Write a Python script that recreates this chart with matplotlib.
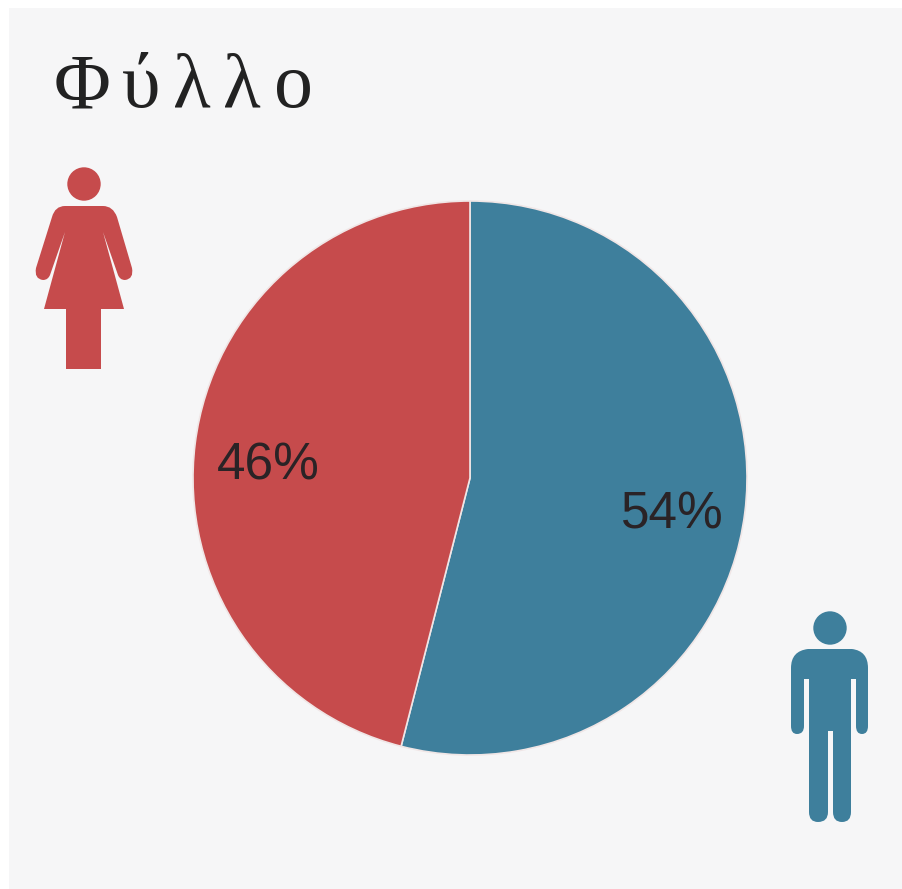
import matplotlib
matplotlib.use("Agg")
from matplotlib import pyplot as plt
from matplotlib.patches import Circle, PathPatch, Rectangle
from matplotlib.path import Path

title = "Φύλλο"
title_x = [54, 122, 173, 223, 274]
shares = [54, 46]
colors = ["#3e7f9c", "#c64b4c"]
label_pos = [(672, 515), (268, 466)]

M, L, Q = Path.MOVETO, Path.LINETO, Path.CURVE3

# outlines of the two figures, in pixels: (code, x, y), a curve takes two entries
woman_body = [
    (M, 65, 206), (L, 103, 206), (Q, 113, 206), (Q, 117, 217),
    (L, 132, 268), (Q, 134, 279), (Q, 125, 280), (Q, 120, 280), (Q, 118, 275),
    (L, 103, 232), (L, 124, 309), (L, 101, 309), (L, 101, 369), (L, 66, 369),
    (L, 66, 309), (L, 44, 309), (L, 65, 232), (L, 50, 275), (Q, 48, 280), (Q, 43, 280),
    (Q, 34, 279), (Q, 36, 268), (L, 52, 217), (Q, 55, 206), (Q, 65, 206),
]
man_body = [
    (M, 808, 649), (L, 852, 649), (Q, 868, 651), (Q, 868, 668),
    (L, 868, 726), (Q, 868, 734), (Q, 862, 734), (Q, 856, 734), (Q, 856, 726),
    (L, 856, 679), (L, 851, 679), (L, 851, 812), (Q, 851, 822), (Q, 842, 822),
    (Q, 833, 822), (Q, 833, 812), (L, 833, 731), (L, 828, 731), (L, 828, 812),
    (Q, 828, 822), (Q, 818, 822), (Q, 809, 822), (Q, 809, 812), (L, 809, 679),
    (L, 804, 679), (L, 804, 726), (Q, 804, 734), (Q, 797, 734), (Q, 791, 734),
    (Q, 791, 726), (L, 791, 668), (Q, 791, 651), (Q, 808, 649),
]


def draw_figure(ax, outline, head, color):
    codes = [p[0] for p in outline] + [Path.CLOSEPOLY]
    verts = [(p[1], p[2]) for p in outline] + [(outline[0][1], outline[0][2])]
    ax.add_patch(PathPatch(Path(verts, codes), facecolor=color, edgecolor="none"))
    ax.add_patch(Circle(head, 16.7, facecolor=color, edgecolor="none"))


fig = plt.figure(figsize=(9.02, 8.89), dpi=100, facecolor="white")
ax = fig.add_axes([0, 0, 1, 1])

ax.add_patch(Rectangle((9, 8), 893, 881, facecolor="#f6f6f7", edgecolor="none"))

# y runs downwards here, so counterclockwise in data is clockwise on screen
ax.pie(shares, colors=colors, startangle=270, counterclock=True, center=(470, 478),
       radius=277, frame=True, wedgeprops={"edgecolor": "#f0e6e6", "linewidth": 1.2})
ax.set_axis_off()
ax.set_xlim(0, 902)
ax.set_ylim(889, 0)
ax.set_aspect("equal")

for share, pos in zip(shares, label_pos):
    ax.text(pos[0], pos[1], f"{share}%", fontsize=37, family="Liberation Sans",
            color="#2a2326", ha="center", va="center")

for letter, x in zip(title, title_x):
    ax.text(x, 107, letter, fontsize=56, family="Liberation Serif", color="#222222",
            ha="left", va="baseline")

draw_figure(ax, woman_body, (84, 184), colors[1])
draw_figure(ax, man_body, (830, 628), colors[0])

fig.savefig("out.png", dpi=100, facecolor=fig.get_facecolor())
